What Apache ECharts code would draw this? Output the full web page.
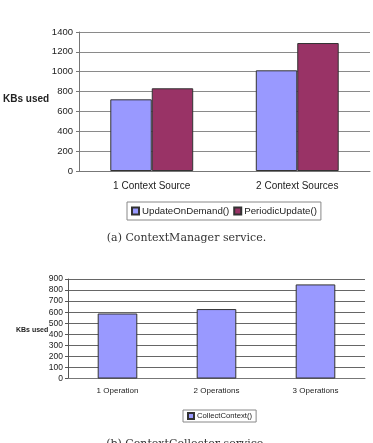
<!DOCTYPE html>
<html><head><meta charset="utf-8">
<script src="https://cdn.jsdelivr.net/npm/echarts@6/dist/echarts.min.js"></script>
<style>html,body{margin:0;padding:0;background:#fff}#c{width:373px;height:443px}</style>
</head><body><div id="c"></div>
<script>
const catsA = ['1 Context Source', '2 Context Sources'];
const updateOnDemand = [722, 1014];
const periodicUpdate = [833, 1289];
const ticksA = {min: 0, max: 1400, interval: 200};
const catsB = ['1 Operation', '2 Operations', '3 Operations'];
const collectContext = [588, 628, 851];
const ticksB = {min: 0, max: 900, interval: 100};

const chart = echarts.init(document.getElementById('c'), null, {renderer: 'canvas'});
const sans = 'Liberation Sans, Arial, sans-serif';
const serif = 'DejaVu Serif, serif';
const gridCol = '#8a8a8a';
chart.setOption({
  animation: false,
  backgroundColor: '#fff',
  title: [
    {text: 'KBs used', left: -2, top: 89, textStyle: {fontFamily: sans, fontSize: 10, fontWeight: 'bold', color: '#222'}},
    {text: '(a) ContextManager service.', left: 'center', top: 228, textStyle: {fontFamily: serif, fontSize: 11, fontWeight: 'normal', color: '#333'}},
    {text: 'KBs used', left: 11, top: 322, textStyle: {fontFamily: sans, fontSize: 7, fontWeight: 'bold', color: '#222'}},
    {text: '(b) ContextCollector service.', left: 'center', top: 434, textStyle: {fontFamily: serif, fontSize: 11, fontWeight: 'normal', color: '#333'}}
  ],
  legend: [
    {data: ['UpdateOnDemand()', 'PeriodicUpdate()'], left: 127, top: 202,
     borderColor: '#888', borderWidth: 1, padding: [4, 4, 4, 4], itemGap: 4,
     itemWidth: 7, itemHeight: 7, icon: 'rect',
     textStyle: {fontFamily: sans, fontSize: 9.7, color: '#222', padding: [0, 0, 0, -2]}},
    {data: ['CollectContext()'], left: 183, top: 410,
     borderColor: '#888', borderWidth: 1, padding: [2, 4, 2, 4],
     itemWidth: 6, itemHeight: 6, icon: 'rect',
     textStyle: {fontFamily: sans, fontSize: 7.7, color: '#222', padding: [0, 0, 0, -2]}}
  ],
  grid: [
    {left: 79, top: 32, right: 3, height: 139},
    {left: 68, top: 279, right: 8, height: 99.5}
  ],
  xAxis: [
    {type: 'category', gridIndex: 0, data: catsA,
     axisLine: {lineStyle: {color: '#777'}}, axisTick: {length: 3, lineStyle: {color: '#777'}},
     axisLabel: {fontFamily: sans, fontSize: 10, color: '#222', margin: 10}},
    {type: 'category', gridIndex: 1, data: catsB,
     axisLine: {lineStyle: {color: '#777'}}, axisTick: {length: 3, lineStyle: {color: '#777'}},
     axisLabel: {fontFamily: sans, fontSize: 8, color: '#222', margin: 8}}
  ],
  yAxis: [
    {type: 'value', gridIndex: 0, min: ticksA.min, max: ticksA.max, interval: ticksA.interval,
     axisLine: {show: true, lineStyle: {color: '#777'}}, axisTick: {show: true, length: 3, lineStyle: {color: '#777'}},
     splitLine: {lineStyle: {color: gridCol}},
     axisLabel: {fontFamily: sans, fontSize: 9.5, color: '#222', margin: 6, formatter: v => String(v)}},
    {type: 'value', gridIndex: 1, min: ticksB.min, max: ticksB.max, interval: ticksB.interval,
     axisLine: {show: true, lineStyle: {color: '#555'}}, axisTick: {show: true, length: 3, lineStyle: {color: '#555'}},
     splitLine: {lineStyle: {color: '#666'}},
     axisLabel: {fontFamily: sans, fontSize: 8.5, color: '#222', margin: 5, formatter: v => String(v)}}
  ],
  series: [
    {name: 'UpdateOnDemand()', type: 'bar', xAxisIndex: 0, yAxisIndex: 0, data: updateOnDemand,
     barGap: '0%', barCategoryGap: '43%',
     itemStyle: {color: '#9999FF', borderColor: '#333', borderWidth: 1}},
    {name: 'PeriodicUpdate()', type: 'bar', xAxisIndex: 0, yAxisIndex: 0, data: periodicUpdate,
     barGap: '0%', barCategoryGap: '43%',
     itemStyle: {color: '#993366', borderColor: '#333', borderWidth: 1}},
    {name: 'CollectContext()', type: 'bar', xAxisIndex: 1, yAxisIndex: 1, data: collectContext,
     barCategoryGap: '60%',
     itemStyle: {color: '#9999FF', borderColor: '#333', borderWidth: 1}}
  ]
});
</script></body></html>
